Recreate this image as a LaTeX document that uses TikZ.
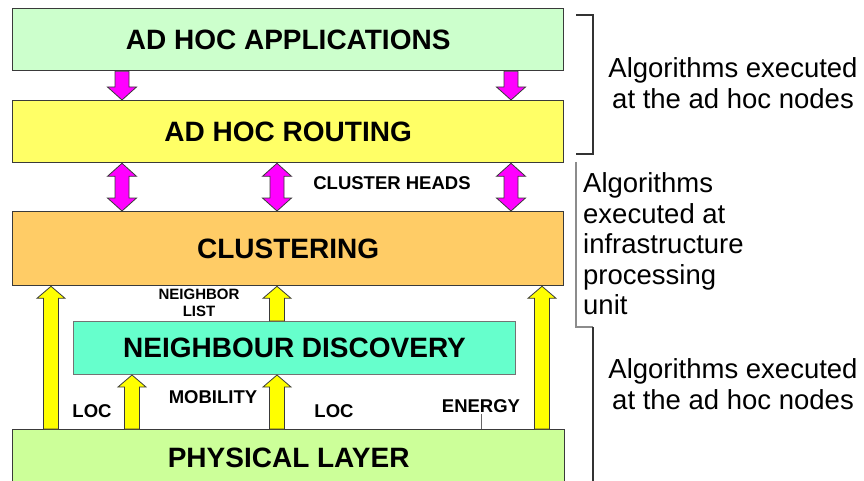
\documentclass[tikz,border=0pt]{standalone}
\usepackage{fontspec}
\setmainfont{Liberation Sans}
\usetikzlibrary{calc}

\definecolor{appfill}{HTML}{CCFFCC}
\definecolor{routefill}{HTML}{FFFF66}
\definecolor{clusterfill}{HTML}{FFCC66}
\definecolor{ndfill}{HTML}{66FFCC}
\definecolor{physfill}{HTML}{CCFF99}
\definecolor{magentaarrow}{HTML}{FF00FF}
\definecolor{yellowarrow}{HTML}{FFFF00}
\definecolor{edgegray}{HTML}{3A3A3A}

% Block arrow pointing down, from the bottom of #2 to the top of #3, at x = #1
\newcommand\downblock[3]{%
  \coordinate (s) at (#2.south -| #1,0);
  \coordinate (t) at (#3.north -| #1,0);
  \draw[magblock] ($(s)+(-7,0)$) -- ($(t)+(-7,-13)$) -- ($(t)+(-14.5,-13)$) -- (t)
    -- ($(t)+(14.5,-13)$) -- ($(t)+(7,-13)$) -- ($(s)+(7,0)$) -- cycle;}
% Two-headed block arrow between the bottom of #2 and the top of #3, at x = #1
\newcommand\dblblock[3]{%
  \coordinate (t) at (#2.south -| #1,0);
  \coordinate (s) at (#3.north -| #1,0);
  \draw[magblock] (t) -- ($(t)+(14.5,13)$) -- ($(t)+(7,13)$) -- ($(s)+(7,-13)$)
    -- ($(s)+(14.5,-13)$) -- (s) -- ($(s)+(-14.5,-13)$) -- ($(s)+(-7,-13)$)
    -- ($(t)+(-7,13)$) -- ($(t)+(-14.5,13)$) -- cycle;}
% Block arrow pointing up, from the top of #2 to the bottom of #3, at x = #1
\newcommand\upblock[3]{%
  \coordinate (s) at (#2.north -| #1,0);
  \coordinate (t) at (#3.south -| #1,0);
  \draw[yelblock] ($(s)+(-7.5,0)$) -- ($(t)+(-7.5,12)$) -- ($(t)+(-14,12)$) -- (t)
    -- ($(t)+(14,12)$) -- ($(t)+(7.5,12)$) -- ($(s)+(7.5,0)$) -- cycle;}

\begin{document}
\begin{tikzpicture}[x=1pt,y=-1pt,
  layer/.style={draw=edgegray, line width=1.3pt, fill=#1, anchor=north west,
    inner sep=0pt, font=\fontsize{28}{30}\selectfont\bfseries},
  magblock/.style={fill=magentaarrow, draw=edgegray, line width=0.8pt, line join=miter},
  yelblock/.style={fill=yellowarrow, draw=edgegray, line width=0.8pt, line join=miter},
  tag/.style={font=\fontsize{18.5}{20}\selectfont\bfseries, inner sep=1pt},
  note/.style={font=\fontsize{27.5}{30.5}\selectfont, inner sep=0pt},
  brackdark/.style={draw=black!80, line width=1.5pt},
  bracklight/.style={draw=black!45, line width=1.2pt}]
\useasboundingbox (0,0) rectangle (864,481);

% protocol layers
\node[layer=appfill, minimum width=551, minimum height=62] (app) at (12,8) {AD HOC APPLICATIONS};
\node[layer=routefill, minimum width=551, minimum height=62] (route) at (12,100) {AD HOC ROUTING};
\node[layer=clusterfill, minimum width=551, minimum height=74] (clust) at (12,211) {CLUSTERING};
\node[layer=ndfill, minimum width=442, minimum height=53, draw=black!55, line width=1pt] (nd) at (73,321) {NEIGHBOUR DISCOVERY};
\node[layer=physfill, minimum width=552, minimum height=56] (phys) at (12,429) {PHYSICAL LAYER};

% magenta block arrows between the upper layers
\downblock{122}{app}{route}
\downblock{511}{app}{route}
\dblblock{122}{route}{clust}
\dblblock{277}{route}{clust}
\dblblock{511}{route}{clust}

% yellow block arrows feeding upwards
\upblock{51}{phys}{clust}
\upblock{542}{phys}{clust}
\upblock{277}{nd}{clust}
\upblock{132}{phys}{nd}
\upblock{277}{phys}{nd}

% arrow labels
\node[tag] (chead) at (392,183) {CLUSTER HEADS};
\node[tag, font=\fontsize{15}{17}\selectfont\bfseries, align=center] (nlist) at (199,303) {NEIGHBOR\\LIST};
\node[tag] (mob) at (213,397) {MOBILITY};
\node[tag] (loc1) at (92,411) {LOC};
\node[tag] (loc2) at (334,411) {LOC};
\node[tag] (energy) at (481,406) {ENERGY};
\draw[black!60, line width=0.8pt] (energy.south) -- (energy.south |- phys.north);

% brackets and notes on the right
\draw[brackdark] (576,15) -- (593,15) -- (593,154) -- (576,154);
\draw[bracklight] (576,162) -- (576,327) -- (593,327);
\draw[brackdark] (593,327) -- (593,481);

\node[note, align=center] (noteA) at (733,83) {Algorithms executed\\at the ad hoc nodes};
\node[note, align=left, anchor=west] (noteB) at (583,244) {Algorithms\\executed at\\infrastructure\\processing\\unit};
\node[note, align=center] (noteC) at (733,384) {Algorithms executed\\at the ad hoc nodes};
\end{tikzpicture}
\end{document}
